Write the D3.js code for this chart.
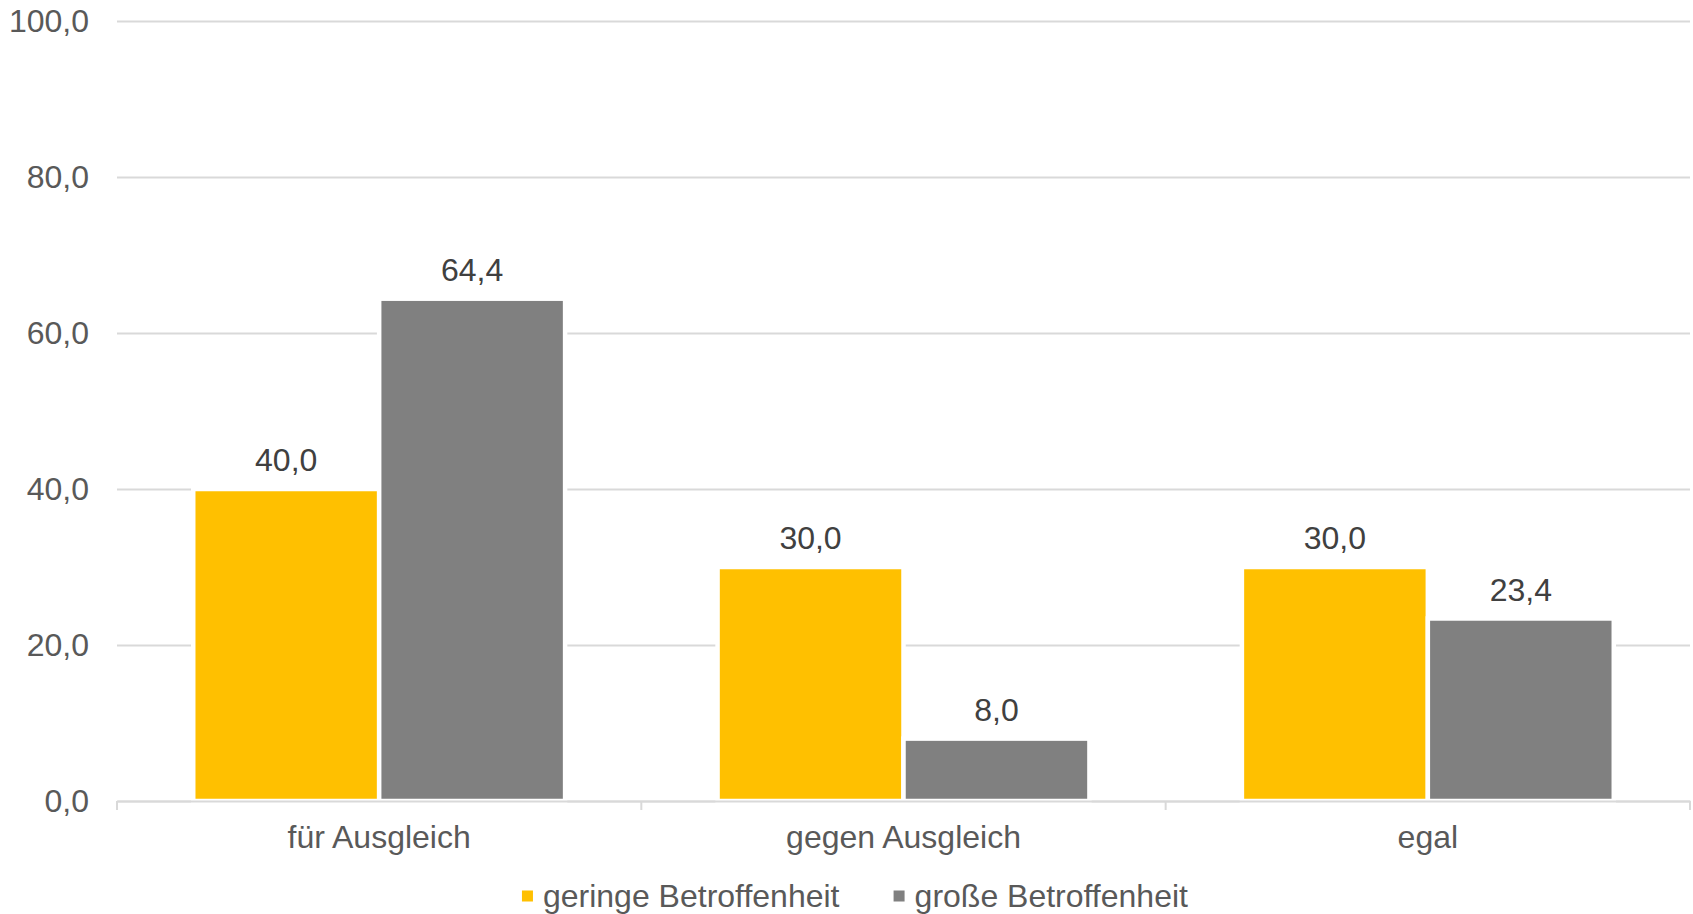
<!DOCTYPE html>
<html>
<head>
<meta charset="utf-8">
<script src="https://cdn.jsdelivr.net/npm/d3@7"></script>
<style>
  body { margin: 0; background: #fff; }
  svg { display: block; font-family: "Liberation Sans", Arial, sans-serif; }
</style>
</head>
<body>
<svg></svg>
<script>
// chart data
let categories = ["für Ausgleich", "gegen Ausgleich", "egal"];
let seriesNames = ["geringe Betroffenheit", "große Betroffenheit"];
let geringe = [40.0, 30.0, 30.0];
let grosse = [64.4, 8.0, 23.4];
let yTicks = [0, 20, 40, 60, 80, 100];
let colors = ["#FFC000", "#808080"];

// canvas
let width = 1693;
let height = 914;
let plotLeft = 117;
let plotRight = 1690;
let plotTop = 21;
let plotBottom = 801;

let svg = d3.select("svg").attr("width", width).attr("height", height);

// german number format
let de = d3.formatLocale({ decimal: ",", thousands: ".", grouping: [3], currency: ["", "€"] });
let fmt = de.format(".1f");

// scales
let yScale = d3.scaleLinear().domain([0, 100]).range([plotBottom, plotTop]);
let x0 = d3.scaleBand().domain(categories).range([plotLeft, plotRight]).padding(0);
let x1 = d3.scaleBand().domain(seriesNames).range([0, x0.bandwidth()])
  .paddingInner(0).paddingOuter(0.41);

// gridlines
let grid = svg.append("g")
  .attr("transform", "translate(" + plotLeft + ",0)")
  .call(d3.axisLeft(yScale).tickValues(yTicks).tickSize(-(plotRight - plotLeft)).tickFormat(""));
grid.select(".domain").remove();
grid.selectAll("line").attr("stroke", "#d9d9d9").attr("stroke-width", 2);

// y labels
let yAxis = svg.append("g")
  .attr("transform", "translate(" + plotLeft + ",0)")
  .call(d3.axisLeft(yScale).tickValues(yTicks).tickSize(0).tickPadding(28).tickFormat(fmt));
yAxis.select(".domain").remove();
yAxis.selectAll("text")
  .attr("font-size", 32)
  .attr("font-family", "Liberation Sans, Arial, sans-serif")
  .attr("fill", "#595959");

// bars
let rows = categories.map((c, i) => ({ cat: c, vals: [geringe[i], grosse[i]] }));

let groups = svg.selectAll(".grp")
  .data(rows)
  .enter()
  .append("g")
  .attr("class", "grp")
  .attr("transform", (d) => "translate(" + x0(d.cat) + ",0)");

groups.selectAll("rect")
  .data((d) => d.vals.map((v, j) => ({ name: seriesNames[j], v: v, j: j })))
  .enter()
  .append("rect")
  .attr("x", (d) => x1(d.name))
  .attr("width", x1.bandwidth())
  .attr("y", (d) => yScale(d.v))
  .attr("height", (d) => yScale(0) - yScale(d.v))
  .attr("fill", (d) => colors[d.j])
  .attr("stroke", "#fff")
  .attr("stroke-width", 4.5);

// value labels
groups.selectAll(".val")
  .data((d) => d.vals.map((v, j) => ({ name: seriesNames[j], v: v, j: j })))
  .enter()
  .append("text")
  .attr("class", "val")
  .attr("x", (d) => x1(d.name) + x1.bandwidth() / 2)
  .attr("y", (d) => yScale(d.v) - 29)
  .attr("dy", "0.35em")
  .attr("text-anchor", "middle")
  .attr("font-size", 32)
  .attr("fill", "#404040")
  .text((d) => fmt(d.v));

// x axis
let xAxis = svg.append("g")
  .attr("transform", "translate(0," + plotBottom + ")")
  .call(d3.axisBottom(x0).tickSize(0).tickPadding(24).tickSizeOuter(0));
xAxis.select(".domain").attr("stroke", "#d9d9d9").attr("stroke-width", 2);
xAxis.selectAll("text")
  .attr("font-size", 32)
  .attr("font-family", "Liberation Sans, Arial, sans-serif")
  .attr("fill", "#595959");

// boundary ticks
let bounds = categories.map((c) => x0(c)).concat([x0.range()[1]]);
svg.append("g")
  .selectAll("line")
  .data(bounds)
  .enter()
  .append("line")
  .attr("x1", (d) => d)
  .attr("x2", (d) => d)
  .attr("y1", plotBottom)
  .attr("y2", plotBottom + 9)
  .attr("stroke", "#d9d9d9")
  .attr("stroke-width", 2);

// legend
let legend = svg.append("g");
let items = legend.selectAll("g")
  .data(seriesNames)
  .enter()
  .append("g");
items.append("rect")
  .attr("width", 11)
  .attr("height", 11)
  .attr("y", -5.5)
  .attr("fill", (d, i) => colors[i]);
items.append("text")
  .attr("x", 21)
  .attr("dy", "0.35em")
  .attr("font-size", 32)
  .attr("fill", "#595959")
  .text((d) => d);

let pos = 0;
let gap = 54;
items.each(function () {
  let w = this.getBBox().width;
  d3.select(this).attr("transform", "translate(" + pos + ",0)");
  pos += w + gap;
});
let total = pos - gap;
legend.attr("transform", "translate(" + (855 - total / 2) + ",896)");
</script>
</body>
</html>
